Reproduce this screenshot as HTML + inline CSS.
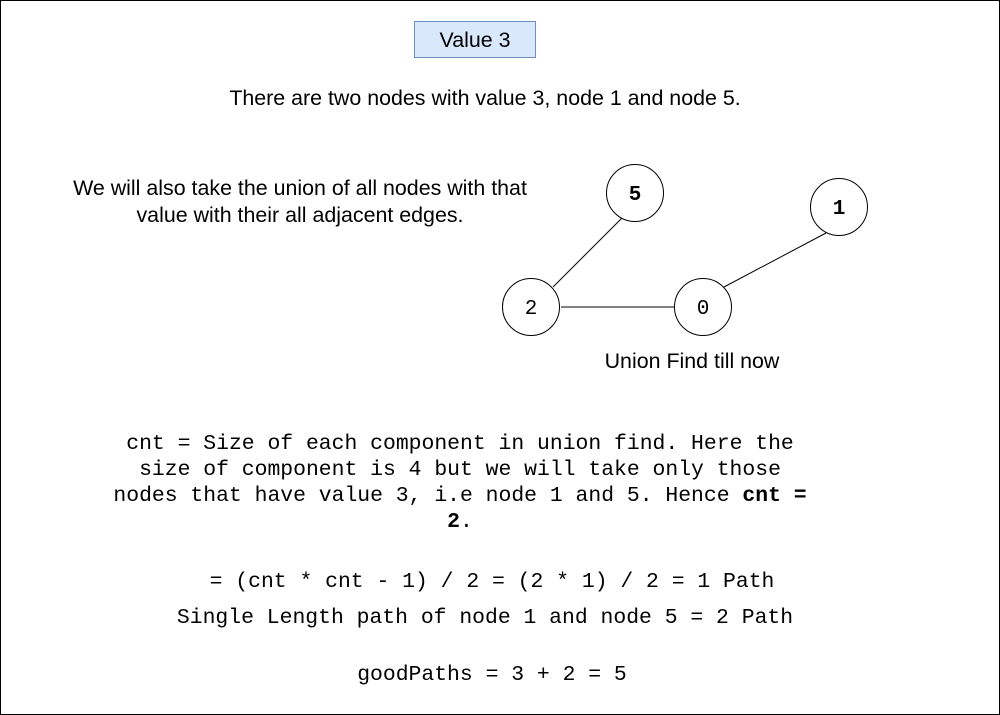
<!DOCTYPE html>
<html><head><style>
body{margin:0;width:1000px;height:715px;background:#fff;overflow:hidden;position:relative}
.t{position:absolute;font-family:"Liberation Sans",sans-serif;font-size:21.4px;color:#000;text-align:center;white-space:nowrap}
.m{position:absolute;font-family:"Liberation Mono",monospace;font-size:21.4px;color:#000;text-align:center;white-space:nowrap}
</style></head><body>
<svg width="1000" height="715" style="position:absolute;left:0;top:0">
<rect x="0.5" y="0.5" width="999" height="714" fill="none" stroke="#000"/>
<rect x="414.5" y="21.5" width="121" height="36" fill="#dae8fc" stroke="#6c8ebf"/>
<line x1="553" y1="287" x2="624" y2="216" stroke="#000"/>
<line x1="561" y1="307" x2="674" y2="307" stroke="#000"/>
<line x1="724" y1="287" x2="826" y2="233" stroke="#000"/>
<g fill="#fff" stroke="#000">
<circle cx="635" cy="193" r="28.5"/><circle cx="839" cy="207" r="28.5"/>
<circle cx="531" cy="307" r="28.5"/><circle cx="703" cy="307" r="28.5"/>
</g>
<g font-family="Liberation Mono,monospace" font-size="21" text-anchor="middle">
<text x="635" y="200" font-weight="bold">5</text>
<text x="839" y="214" font-weight="bold">1</text>
<text x="531" y="314">2</text>
<text x="703" y="314">0</text>
</g>
</svg>
<div class="t" style="left:414px;top:28px;width:122px">Value 3</div>
<div class="t" style="left:185px;top:86px;width:600px">There are two nodes with value 3, node 1 and node 5.</div>
<div class="t" style="left:50px;top:175px;width:500px;line-height:27px">We will also take the union of all nodes with that<br>value with their all adjacent edges.</div>
<div class="t" style="left:592px;top:349px;width:200px">Union Find till now</div>
<div class="m" style="left:60px;top:431px;width:800px;line-height:26px">cnt = Size of each component in union find. Here the<br>size of component is 4 but we will take only those<br>nodes that have value 3, i.e node 1 and 5. Hence <b>cnt =</b><br><b>2</b>.</div>
<div class="m" style="left:92px;top:570px;width:800px">= (cnt * cnt - 1) / 2 = (2 * 1) / 2 = 1 Path</div>
<div class="m" style="left:85px;top:606px;width:800px">Single Length path of node 1 and node 5 = 2 Path</div>
<div class="m" style="left:92px;top:663px;width:800px">goodPaths = 3 + 2 = 5</div>
</body></html>
